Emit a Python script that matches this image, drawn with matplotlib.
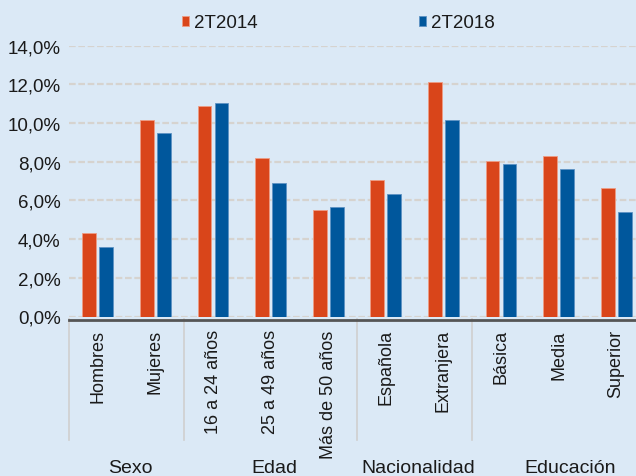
import matplotlib
matplotlib.use("Agg")
import matplotlib.pyplot as plt
import matplotlib.transforms as mtransforms
import numpy as np

categories = ["Hombres", "Mujeres", "16 a 24 años", "25 a 49 años", "Más de 50 años",
              "Española", "Extranjera", "Básica", "Media", "Superior"]
s2014 = [4.34, 10.15, 10.89, 8.19, 5.49, 7.04, 12.13, 8.02, 8.28, 6.63]
s2018 = [3.60, 9.50, 11.06, 6.88, 5.65, 6.32, 10.17, 7.86, 7.62, 5.40]
groups = ["Sexo", "Edad", "Nacionalidad", "Educación"]
group_sizes = [2, 3, 2, 3]
series_names = ["2T2014", "2T2018"]
yticks = [0, 2, 4, 6, 8, 10, 12, 14]

plt.rcParams['font.family'] = ['Liberation Sans', 'DejaVu Sans']

bg = "#DBE9F6"
c_or = "#D9451A"
c_bl = "#00579C"

W, H = 636, 477
fig = plt.figure(figsize=(W / 100, H / 100), dpi=100, facecolor=bg)
left_px, right_px = 69, 645
bot_px, top_px = 317.5, 46.7
ax = fig.add_axes([left_px / W, (H - bot_px) / H, (right_px - left_px) / W, (bot_px - top_px) / H])
ax.set_facecolor(bg)

for s in ["top", "right", "left"]:
    ax.spines[s].set_visible(False)
ax.spines["bottom"].set_position(("outward", 2.2))
ax.spines["bottom"].set_color("#555555")
ax.spines["bottom"].set_linewidth(2)

x = np.arange(len(categories))
bw = 0.24
off = 0.147
ax.bar(x - off, s2014, bw, color=c_or, edgecolor="#EE9C84", linewidth=0.6, label=series_names[0], zorder=3)
ax.bar(x + off, s2018, bw, color=c_bl, edgecolor="#5E93C4", linewidth=0.6, label=series_names[1], zorder=3)

ax.tick_params(axis="y", length=0, pad=6)
ax.tick_params(axis="x", length=0, pad=7)

ax.set_xlim(-0.5, len(categories) - 0.5)
ax.set_ylim(0, 14)
ax.set_yticks(yticks)
ax.set_yticklabels([f"{v:.1f}".replace(".", ",") + "%" for v in yticks], fontsize=13.5, color="#1a1a1a")
ax.yaxis.grid(True, color="#D6D3CF", linestyle=(0, (3, 1.2)), linewidth=1.6, zorder=0)
ax.set_axisbelow(True)

ax.set_xticks(x)
ax.set_xticklabels(categories, rotation=90, fontsize=13, color="#1a1a1a", va="top", ha="center")

trans = mtransforms.blended_transform_factory(ax.transData, ax.transAxes)
sep_bottom = (bot_px - 441) / (bot_px - top_px)
bounds = np.concatenate([[0], np.cumsum(group_sizes)]) - 0.5
for b in bounds[:-1]:
    ax.plot([b, b], [-0.01, sep_bottom], transform=trans, color="#CFCFCF", lw=1.2, clip_on=False)

label_y = (bot_px - 468.5) / (bot_px - top_px)
shifts = [0.07, 0.07, 0.07, 0.2]
for i, g in enumerate(groups):
    center = (bounds[i] + bounds[i + 1]) / 2 + shifts[i]
    ax.text(center, label_y, g, transform=trans, ha="center", va="center", fontsize=14, color="#1a1a1a")

leg = fig.legend(loc="center", bbox_to_anchor=(338 / W, 1 - 24 / H), ncol=2, frameon=False,
                 fontsize=13.5, handlelength=0.4, handleheight=0.4, handletextpad=0.25,
                 columnspacing=8.6)
for t in leg.get_texts():
    t.set_color("#1a1a1a")

fig.savefig("out.png", dpi=100, facecolor=bg)
